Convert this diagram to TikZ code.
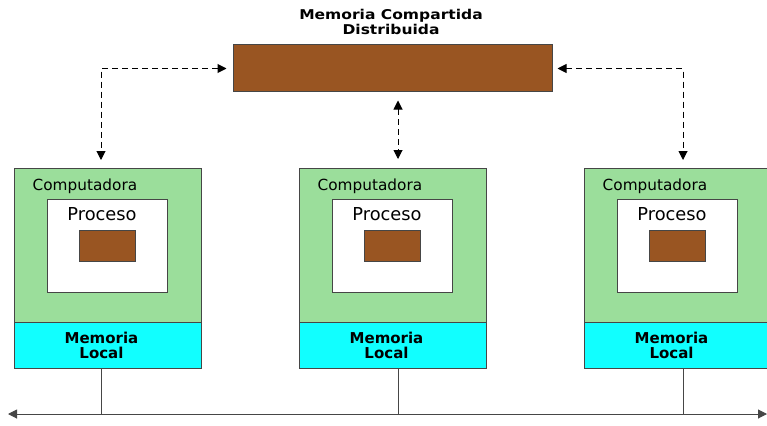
\documentclass[tikz,border=0pt]{standalone}
\usepackage{fontspec}
\setmainfont{DejaVu Sans}
\newfontfamily\titlefont{DejaVu Sans}[FakeStretch=1.15]
\usetikzlibrary{arrows.meta,calc}

\definecolor{shmbrown}{RGB}{153,85,34}
\definecolor{compgreen}{RGB}{155,222,155}
\definecolor{memcyan}{RGB}{17,255,255}
\definecolor{edgegray}{RGB}{70,70,70}

\tikzset{
  box/.style={draw=edgegray, line width=1pt, inner sep=0pt},
  shmbox/.style={box, fill=shmbrown},
  compbox/.style={box, fill=compgreen, minimum width=187pt, minimum height=154pt},
  membox/.style={box, fill=memcyan, minimum width=187pt, minimum height=46pt},
  procbox/.style={box, fill=white, minimum width=120pt, minimum height=93pt},
  link/.style={dashed, line width=1pt, dash pattern=on 6pt off 4pt,
    {Triangle[length=9pt,width=9pt]}-{Triangle[length=9pt,width=9pt]}},
  busline/.style={line width=1pt, draw=edgegray},
  label/.style={inner sep=0pt},
  memtext/.style={label, align=center, font=\bfseries\fontsize{15}{15}\selectfont}
}

\begin{document}
\begin{tikzpicture}[x=1pt, y=-1pt]
    \useasboundingbox (0,0) rectangle (767,425);

    % Shared memory
    \node[shmbox, minimum width=319pt, minimum height=47pt] (shm) at (392.5,68.5) {};
    \node[label, align=center, font=\titlefont\bfseries\fontsize{13.5}{14.5}\selectfont] (title) at (391,22)
        {Memoria Compartida\\Distribuida};

    % Computers
    \foreach \n/\bx/\lx in {1/107.5/101, 2/392.5/398, 3/677.5/683} {
        \node[compbox] (comp\n) at (\bx,245) {};
        \node[membox] (mem\n) at (\bx,345) {};
        \node[memtext] (mtext\n) at ($(mem\n)+(-6,0)$) {Memoria\\Local};
        \node[procbox] (proc\n) at ($(\bx,245.5)+(-0.5,0)$) {};
        \node[shmbox, minimum width=56pt, minimum height=31pt] (part\n) at (proc\n) {};
        \node[label, anchor=base west, font=\fontsize{15.3}{16}\selectfont] (ctext\n)
            at ($(comp\n.north west)+(19,23)$) {Computadora};
        \node[label, anchor=base, font=\fontsize{17.8}{18}\selectfont] (ptext\n)
            at ($(proc\n.north)+(-5,22)$) {Proceso};
        \coordinate (drop\n) at (\lx,168);
        \coordinate (tap\n) at (\lx,414);
    }

    % Bus
    \coordinate (busw) at (8,414);
    \coordinate (buse) at (767,414);
    \draw[busline, {Triangle[length=9pt,width=9pt]}-{Triangle[length=9pt,width=9pt]}] (busw) -- (buse);
    \foreach \n in {1,2,3}
        \draw[busline] (tap\n |- mem\n.south) -- (tap\n);

    % Links to the shared memory
    \draw[link, shorten <=6pt, shorten >=8pt] (shm.west) -| (drop1);
    \draw[link, shorten <=8pt, shorten >=9pt] (shm.south -| drop2) -- (drop2);
    \draw[link, shorten <=5pt, shorten >=8pt] (shm.east) -| (drop3);
\end{tikzpicture}
\end{document}
